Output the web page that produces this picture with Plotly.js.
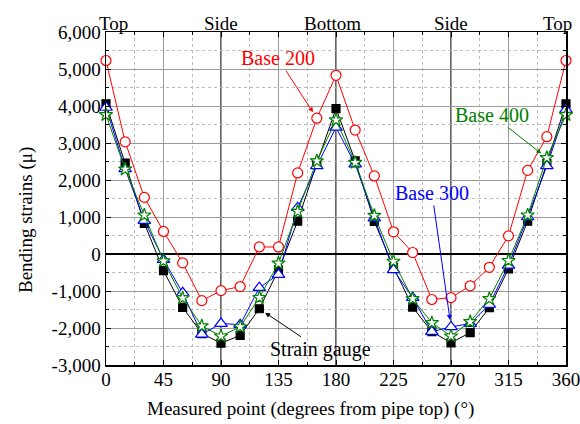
<!DOCTYPE html>
<html><head><meta charset="utf-8">
<script src="https://cdn.plot.ly/plotly-3.0.1.min.js"></script>
<style>html,body{margin:0;padding:0;background:#fff}#chart{width:580px;height:424px}</style>
</head><body><div id="chart"></div>
<script>
const angles = [0,15,30,45,60,75,90,105,120,135,150,165,180,195,210,225,240,255,270,285,300,315,330,345,360];
const base200 = [5230,3030,1530,610,-240,-1260,-990,-880,190,190,2190,3670,4830,3350,2110,600,40,-1230,-1180,-860,-360,490,2260,3170,5230];
const base300 = [3960,2300,900,-150,-1050,-2170,-1880,-1910,-910,-555,1250,2380,3420,2430,970,-430,-1180,-2100,-1970,-1880,-1365,-310,1000,2380,3900];
const base400 = [3760,2290,1050,-190,-1190,-1945,-2220,-1970,-1180,-250,1150,2515,3620,2470,1040,-200,-1210,-1860,-2220,-1830,-1210,-180,1050,2600,3760];
const gauge = [4060,2460,830,-450,-1440,-2150,-2410,-2200,-1480,-430,890,2450,3930,2520,880,-360,-1435,-2100,-2400,-2125,-1450,-405,890,2450,4060];
const xTicks = [0,45,90,135,180,225,270,315,360];
const yTicks = [-3000,-2000,-1000,0,1000,2000,3000,4000,5000,6000];
const topLabels = ["Top","Side","Bottom","Side","Top"];
const topPos = [0,90,180,270,360];
const topShift = [7,0,-4,0,-9];

const F = "Liberation Serif";
const pw = 580-106-14, ph = 424-32-59;
function tr(y, color, symbol, size, name, fill){
  return {x: angles, y: y, type:'scatter', mode:'lines+markers', name:name, cliponaxis:false,
    line:{color:color, width:1},
    marker:{symbol:symbol, size:size, color: fill ? color : '#ffffff', line:{color:color, width:1.2}}};
}
const data = [
  tr(gauge,'#000000','square',8,'Strain gauge',true),
  tr(base200,'#ff0000','circle',10,'Base 200',false),
  tr(base300,'#0000ff','triangle-up',11,'Base 300',false),
  tr(base400,'#008000','star',10,'Base 400',false)
];
const shapes = [90,180,270].map(v=>({type:'line', xref:'x', yref:'paper', x0:v, x1:v, y0:0, y1:1, line:{color:'#000', width:1.2}, layer:'below'}));
const annotations = topLabels.map((t,i)=>({x:topPos[i], y:1, xref:'x', yref:'paper', yanchor:'bottom', yshift:-4, xshift:topShift[i], text:t, showarrow:false, font:{family:F, size:19, color:'#000'}}));
annotations.push(
  {x:165, y:3670, ax:-39, ay:-60, text:'Base 200', font:{family:F,size:20,color:'#ff0000'}, showarrow:true, arrowcolor:'#ff0000', arrowhead:2, arrowsize:1, arrowwidth:1, standoff:7},
  {x:345, y:2600, text:'Base 400', font:{family:F,size:20,color:'#008000'}, showarrow:true, arrowcolor:'#008000', arrowhead:2, arrowsize:1, arrowwidth:1, standoff:7, ax:-55, ay:-43},
  {x:270, y:-1970, text:'Base 300', font:{family:F,size:20,color:'#0000ff'}, showarrow:true, arrowcolor:'#0000ff', arrowhead:2, arrowsize:1, arrowwidth:1, standoff:7, ax:-19, ay:-134},
  {x:120, y:-1480, text:'Strain gauge', font:{family:F,size:20,color:'#000'}, showarrow:true, arrowcolor:'#000', arrowhead:2, arrowsize:1, arrowwidth:1, standoff:7, ax:61, ay:41},
  {x:(310-106)/pw, y:(365-409)/ph, xref:'paper', yref:'paper', xanchor:'center', yanchor:'middle', text:'Measured point (degrees from pipe top) (°)', showarrow:false, font:{family:F,size:19,color:'#000'}},
  {x:(26-106)/pw, y:(365-220)/ph, xref:'paper', yref:'paper', xanchor:'center', yanchor:'middle', textangle:-90, text:'Bending strains (μ)', showarrow:false, font:{family:F,size:19,color:'#000'}}
);

const layout = {
  width:580, height:424, showlegend:false,
  paper_bgcolor:'#fff', plot_bgcolor:'#fff',
  margin:{l:106, r:14, t:32, b:59},
  font:{family:F, size:19, color:'#000'},
  xaxis:{range:[0,360], tickvals:xTicks, ticktext:xTicks.map(String), showline:true, mirror:'ticks', linecolor:'#000', linewidth:1.5,
    ticks:'inside', ticklen:5, tickcolor:'#000', showgrid:true, gridcolor:'#9a9a9a', gridwidth:1, zeroline:false, ticklabeloverflow:'allow', ticklabelstandoff:-3,
    minor:{dtick:22.5, tick0:0, showgrid:true, gridcolor:'#bbbbbb', griddash:'dot', gridwidth:1, ticks:'inside', ticklen:3, tickcolor:'#000'},
    tickfont:{family:F, size:19}},
  yaxis:{range:[-3000,6000], tickvals:yTicks, ticktext:yTicks.map(v=>v.toLocaleString('en-US')), showline:true, mirror:'ticks', linecolor:'#000', linewidth:1.5,
    ticks:'inside', ticklen:5, tickcolor:'#000', showgrid:true, gridcolor:'#9a9a9a', gridwidth:1, zeroline:true, zerolinecolor:'#000', zerolinewidth:1.2,
    minor:{dtick:500, tick0:0, showgrid:true, gridcolor:'#bbbbbb', griddash:'dot', gridwidth:1, ticks:'inside', ticklen:3, tickcolor:'#000'},
    tickfont:{family:F, size:19}},
  shapes:shapes, annotations:annotations
};
Plotly.newPlot('chart', data, layout, {staticPlot:true, displayModeBar:false});
</script></body></html>
